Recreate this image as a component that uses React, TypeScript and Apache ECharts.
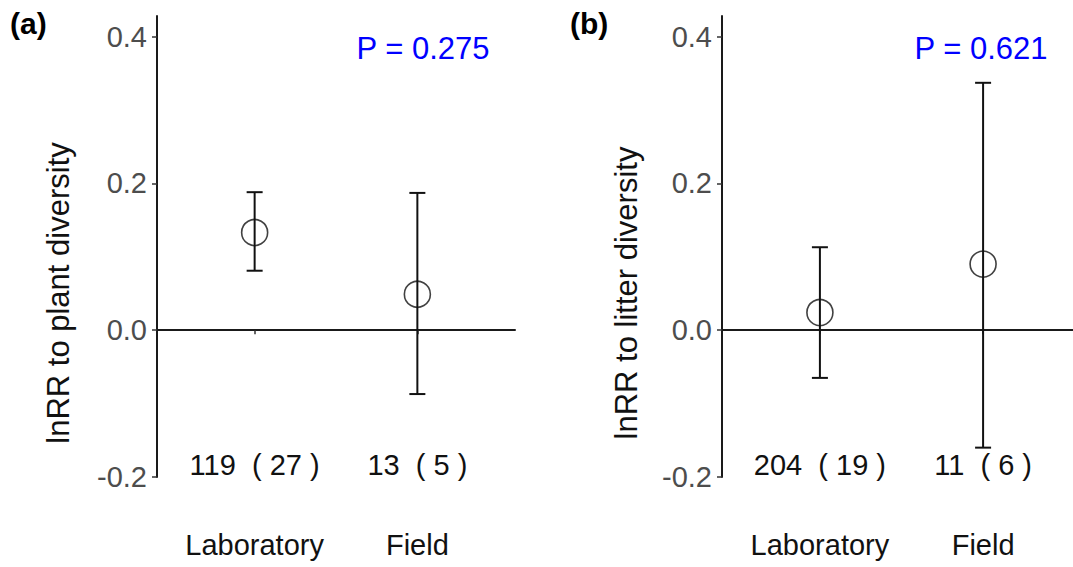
import React, { useEffect, useRef } from "react";
import * as echarts from "echarts";

// ---- data ----
const categories = ["Laboratory", "Field"];
const catPositions = [1, 2];
const countsA = ["119  ( 27 )", "13  ( 5 )"];
const countsB = ["204  ( 19 )", "11  ( 6 )"];
const meanA = [0.133, 0.049];
const lowA = [0.081, -0.087];
const highA = [0.188, 0.187];
const meanB = [0.024, 0.09];
const lowB = [-0.065, -0.16];
const highB = [0.113, 0.337];
const yTicks = [-0.2, 0, 0.2, 0.4];
const pValues = ["P = 0.275", "P = 0.621"];
const yTitles = ["lnRR to plant diversity", "lnRR to litter diversity"];
const panelTags = ["(a)", "(b)"];

const FONT = "'Liberation Sans', Arial, sans-serif";

function App() {
  const ref = useRef<HTMLDivElement>(null);

  useEffect(() => {
    if (!ref.current) return;
    const chart = echarts.init(ref.current, undefined, { renderer: "svg" });

    const makeX = (gridIndex: number, counts: string[]) => ({
      type: "value",
      gridIndex,
      min: 0.4,
      max: 2.6,
      axisLine: { show: true, onZero: true, lineStyle: { color: "#1a1a1a", width: 2 } },
      axisTick: {
        show: true,
        customValues: catPositions,
        length: 4,
        lineStyle: { color: "#333", width: 1.5 },
      },
      splitLine: { show: false },
      axisLabel: {
        customValues: catPositions,
        margin: -52,
        formatter: (v: number) => {
          const i = catPositions.indexOf(Math.round(v * 1000) / 1000);
          if (i < 0) return "";
          return `{n|${counts[i]}}\n{c|${categories[i]}}`;
        },
        rich: {
          n: { fontSize: 29, lineHeight: 80, color: "#111", fontFamily: FONT },
          c: { fontSize: 29, lineHeight: 80, color: "#111", fontFamily: FONT },
        },
      },
    });

    const makeY = (gridIndex: number) => ({
      type: "value",
      gridIndex,
      min: -0.2,
      max: 0.428,
      axisLine: { show: true, lineStyle: { color: "#1a1a1a", width: 2 } },
      axisTick: {
        show: true,
        customValues: yTicks,
        length: 5,
        lineStyle: { color: "#333", width: 1.5 },
      },
      splitLine: { show: false },
      axisLabel: {
        customValues: yTicks,
        margin: 10,
        color: "#4d4d4d",
        fontSize: 29,
        fontFamily: FONT,
        formatter: (v: number) => v.toFixed(1),
      },
    });

    const errorSeries = (idx: number, lows: number[], highs: number[]) => ({
      type: "custom",
      xAxisIndex: idx,
      yAxisIndex: idx,
      clip: false,
      encode: { x: 0, y: [1, 2] },
      data: catPositions.map((x, i) => [x, lows[i], highs[i]]),
      renderItem: (params: any, api: any) => {
        const x = api.value(0);
        const pLo = api.coord([x, api.value(1)]);
        const pHi = api.coord([x, api.value(2)]);
        const half = 8;
        const style = { stroke: "#111", lineWidth: 2 };
        return {
          type: "group",
          children: [
            { type: "line", shape: { x1: pLo[0], y1: pLo[1], x2: pHi[0], y2: pHi[1] }, style },
            { type: "line", shape: { x1: pHi[0] - half, y1: pHi[1], x2: pHi[0] + half, y2: pHi[1] }, style },
            { type: "line", shape: { x1: pLo[0] - half, y1: pLo[1], x2: pLo[0] + half, y2: pLo[1] }, style },
          ],
        };
      },
      z: 2,
    });

    const pointSeries = (idx: number, means: number[]) => ({
      type: "scatter",
      xAxisIndex: idx,
      yAxisIndex: idx,
      symbol: "circle",
      symbolSize: 26,
      itemStyle: { color: "rgba(0,0,0,0)", borderColor: "#111", borderWidth: 1.6 },
      data: catPositions.map((x, i) => [x, means[i]]),
      z: 3,
    });

    const textStyle = (extra: any) => ({ fontFamily: FONT, ...extra });

    chart.setOption({
      animation: false,
      backgroundColor: "#ffffff",
      grid: [
        { left: 157, top: 16, width: 358, height: 461, outerBoundsMode: "none", containLabel: false },
        { left: 722, top: 16, width: 359, height: 461, outerBoundsMode: "none", containLabel: false },
      ],
      xAxis: [makeX(0, countsA), makeX(1, countsB)],
      yAxis: [makeY(0), makeY(1)],
      series: [
        errorSeries(0, lowA, highA),
        pointSeries(0, meanA),
        errorSeries(1, lowB, highB),
        pointSeries(1, meanB),
      ],
      graphic: [
        {
          type: "text",
          left: 10,
          top: 8,
          style: textStyle({ text: panelTags[0], fontSize: 30, fontWeight: "bold", fill: "#000" }),
        },
        {
          type: "text",
          left: 570,
          top: 8,
          style: textStyle({ text: panelTags[1], fontSize: 30, fontWeight: "bold", fill: "#000" }),
        },
        {
          type: "text",
          x: 423,
          y: 48,
          style: textStyle({ text: pValues[0], fontSize: 31, fill: "#0000ff", align: "center", verticalAlign: "middle" }),
        },
        {
          type: "text",
          x: 981,
          y: 48,
          style: textStyle({ text: pValues[1], fontSize: 31, fill: "#0000ff", align: "center", verticalAlign: "middle" }),
        },
        {
          type: "text",
          x: 58,
          y: 293,
          rotation: Math.PI / 2,
          style: textStyle({ text: yTitles[0], fontSize: 31, fill: "#111", align: "center", verticalAlign: "middle" }),
        },
        {
          type: "text",
          x: 626,
          y: 293,
          rotation: Math.PI / 2,
          style: textStyle({ text: yTitles[1], fontSize: 31, fill: "#111", align: "center", verticalAlign: "middle" }),
        },
      ],
    });

    return () => chart.dispose();
  }, []);

  return (
    <div
      ref={ref}
      style={{ position: "fixed", left: 0, top: 0, width: 1073, height: 567, background: "#fff" }}
    />
  );
}

export default App;
